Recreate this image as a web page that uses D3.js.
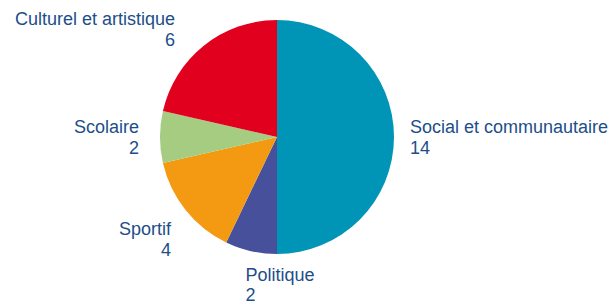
<!DOCTYPE html>
<html>
<head>
<meta charset="utf-8">
<script src="https://cdn.jsdelivr.net/npm/d3@7"></script>
<style>
  html, body { margin: 0; padding: 0; background: #fff; }
  svg text { font-family: "Liberation Sans", Arial, sans-serif; font-size: 18px; fill: #1c4e8a; }
</style>
</head>
<body>
<svg id="chart" width="611" height="304"></svg>
<script>
// données
const categories = ["Social et communautaire", "Politique", "Sportif", "Scolaire", "Culturel et artistique"];
const values = [14, 2, 4, 2, 6];
const colors = ["#0095b6", "#47509a", "#f39a12", "#a6cc82", "#e2001f"];

// petits décalages des étiquettes (x, y) par rapport au point calculé
const labelNudge = [[0, -17], [-2, 1], [-2, 2], [-5, -17], [-19, -21]];

const cx = 277, cy = 137, radius = 117;

const svg = d3.select("#chart");
const g = svg.append("g").attr("transform", `translate(${cx},${cy})`);

const data = categories.map((c, i) => ({ name: c, value: values[i], color: colors[i], i }));

const pie = d3.pie().value(d => d.value).sort(null);
const arc = d3.arc().innerRadius(0).outerRadius(radius);
const labelArc = d3.arc().innerRadius(133).outerRadius(133);

const arcs = pie(data);

g.selectAll("path")
  .data(arcs)
  .enter()
  .append("path")
  .attr("d", arc)
  .attr("fill", d => d.data.color);

// étiquettes : nom puis valeur
g.selectAll("text.label")
  .data(arcs)
  .enter()
  .append("text")
  .attr("class", "label")
  .each(function (d) {
    const [px, py] = labelArc.centroid(d);
    const nudge = labelNudge[d.data.i];
    const anchor = px > -40 ? "start" : "end";
    const x = px + nudge[0];
    const y = py + nudge[1] + 13;
    const t = d3.select(this)
      .attr("text-anchor", anchor)
      .attr("x", x)
      .attr("y", y);
    t.append("tspan").attr("x", x).text(d.data.name);
    t.append("tspan").attr("x", x).attr("dy", 20.7).text(d.data.value);
  });
</script>
</body>
</html>
